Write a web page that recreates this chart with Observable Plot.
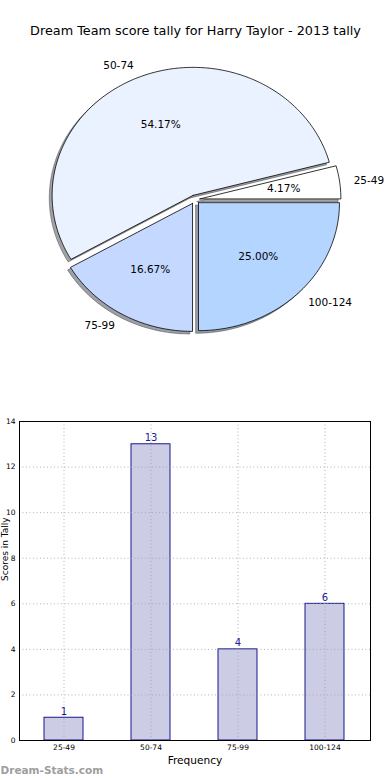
<!DOCTYPE html>
<html>
<head>
<meta charset="utf-8">
<script src="https://cdn.jsdelivr.net/npm/d3@7"></script>
<script src="https://cdn.jsdelivr.net/npm/@observablehq/plot@0.6"></script>
<style>
  html, body { margin: 0; padding: 0; background: white; }
  #chart svg { display: block; }
</style>
</head>
<body>
<div id="chart"></div>
<script>
// ---- data ----
const title = "Dream Team score tally for Harry Taylor - 2013 tally";
const categories = ["25-49", "50-74", "75-99", "100-124"];
const counts = [1, 13, 4, 6];
const sliceColors = ["#ffffff", "#eaf1ff", "#c5d8ff", "#b4d5ff"];
const yTicks = [0, 2, 4, 6, 8, 10, 12, 14];
const xLabel = "Frequency";
const yLabel = "Scores in Tally";
const watermark = "Dream-Stats.com";

// ---- pie geometry derived from the data ----
const explode = 0.035;
const shadowOffset = -0.02;
const total = d3.sum(counts);
let acc = 0;
const slices = categories.map((c, i) => {
  const a0 = acc / total * 2 * Math.PI;
  acc += counts[i];
  const a1 = acc / total * 2 * Math.PI;
  const mid = (a0 + a1) / 2;
  const ox = explode * Math.cos(mid), oy = explode * Math.sin(mid);
  return {
    label: c, value: counts[i], color: sliceColors[i], a0, a1, mid, ox, oy,
    lx: ox + 1.1 * Math.cos(mid), ly: oy + 1.1 * Math.sin(mid),
    px: ox + 0.6 * Math.cos(mid), py: oy + 0.6 * Math.sin(mid),
    pct: (counts[i] / total * 100).toFixed(2) + "%"
  };
});
function slicePoints(s, sx = 0, sy = 0) {
  const pts = [{x: s.ox + sx, y: s.oy + sy}];
  const n = Math.max(2, Math.ceil((s.a1 - s.a0) / (Math.PI / 180)));
  for (let k = 0; k <= n; k++) {
    const a = s.a0 + (s.a1 - s.a0) * k / n;
    pts.push({x: s.ox + sx + Math.cos(a), y: s.oy + sy + Math.sin(a)});
  }
  pts.push({x: s.ox + sx, y: s.oy + sy});
  return pts;
}
function shadowColor(c) {
  const r = d3.rgb(c);
  return d3.rgb(r.r * 0.3, r.g * 0.3, r.b * 0.3).formatHex();
}

const cx = 194.5, cy = 199, rx = 141, ry = 128;
const pie = Plot.plot({
  width: 390, height: 395,
  margin: 0,
  style: {fontFamily: "DejaVu Sans", background: "white", color: "black"},
  x: {domain: [-1, 1], range: [cx - rx, cx + rx], axis: null},
  y: {domain: [-1, 1], range: [cy + ry, cy - ry], axis: null},
  marks: [
    ...slices.map(s => Plot.line(slicePoints(s, shadowOffset, shadowOffset), {
      x: "x", y: "y", curve: "linear",
      fill: shadowColor(s.color), fillOpacity: 0.5,
      stroke: shadowColor(s.color), strokeOpacity: 0.5, strokeWidth: 1
    })),
    ...slices.map(s => Plot.line(slicePoints(s), {
      x: "x", y: "y", curve: "linear",
      fill: s.color, stroke: "black", strokeWidth: 0.8, strokeLinejoin: "miter"
    })),
    Plot.text(slices.filter(s => Math.cos(s.mid) > 0), {
      x: "lx", y: "ly", text: "label", textAnchor: "start", lineAnchor: "middle", fontSize: 10.5, fill: "black"
    }),
    Plot.text(slices.filter(s => Math.cos(s.mid) <= 0), {
      x: "lx", y: "ly", text: "label", textAnchor: "end", lineAnchor: "middle", fontSize: 10.5, fill: "black"
    }),
    Plot.text(slices, {
      x: "px", y: "py", text: "pct", textAnchor: "middle", lineAnchor: "middle", fontSize: 10.5, fill: "black"
    }),
    Plot.text([title], {
      frameAnchor: "top", dy: 30, lineAnchor: "middle", fontSize: 12.8, fill: "black"
    })
  ]
});

// ---- bar chart ----
const bars = categories.map((c, i) => ({cat: c, value: counts[i]}));
const bar = Plot.plot({
  width: 390, height: 385,
  marginLeft: 19, marginRight: 20, marginTop: 26, marginBottom: 40,
  style: {fontFamily: "DejaVu Sans", background: "white", color: "black", overflow: "visible"},
  x: {domain: categories, paddingInner: 0.55, paddingOuter: 0.275, label: null},
  y: {domain: [0, 14], label: null},
  marks: [
    Plot.barY(bars, {x: "cat", y: "value", fill: "#ccccE5", stroke: "#000080", strokeWidth: 0.9}),
    Plot.gridX({stroke: "#a0a0a0", strokeOpacity: 0.8, strokeDasharray: "1,2.5"}),
    Plot.gridY({ticks: yTicks, stroke: "#a0a0a0", strokeOpacity: 0.8, strokeDasharray: "1,2.5"}),
    Plot.text(bars, {x: "cat", y: "value", text: d => String(d.value), dy: -3, lineAnchor: "bottom", fontSize: 10, fill: "#1c1c9a"}),
    Plot.frame({stroke: "black", strokeWidth: 1}),
    Plot.axisX({tickSize: 0, tickPadding: 4, fontSize: 7.5, label: null}),
    Plot.axisY({ticks: yTicks, tickSize: 0, tickPadding: 4, fontSize: 7.5, label: null}),
    Plot.text([xLabel], {frameAnchor: "bottom", dy: 20, lineAnchor: "middle", fontSize: 10.6, fill: "black"}),
    Plot.text([yLabel], {frameAnchor: "left", dx: -14, rotate: -90, lineAnchor: "middle", fontSize: 9, fill: "black"}),
    Plot.text([watermark], {frameAnchor: "bottom-left", dx: -19, dy: 30, textAnchor: "start", lineAnchor: "middle", fontSize: 10.5, fontWeight: "bold", fill: "#9e9e9e"})
  ]
});

const root = document.getElementById("chart");
root.appendChild(pie);
root.appendChild(bar);
</script>
</body>
</html>
